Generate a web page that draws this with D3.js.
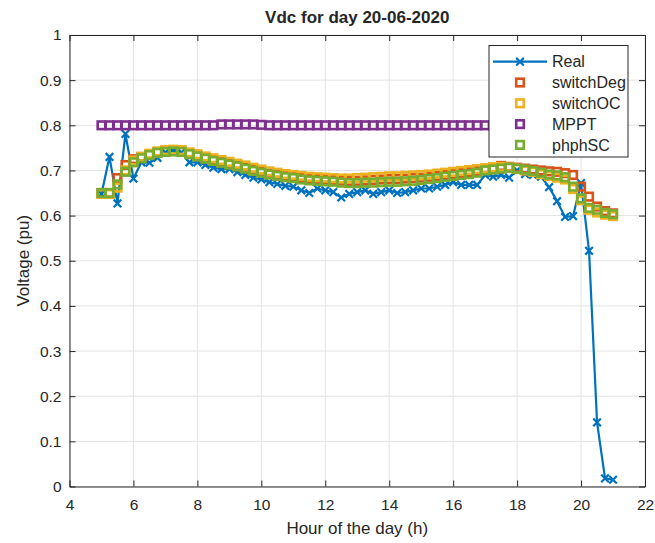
<!DOCTYPE html>
<html>
<head>
<meta charset="utf-8">
<script src="https://cdn.jsdelivr.net/npm/d3@7"></script>
<style>
  body { margin: 0; background: #fff; }
  svg { display: block; }
  text { font-family: "Liberation Sans", Arial, Helvetica, sans-serif; fill: #262626; }
</style>
</head>
<body>
<svg id="chart" width="655" height="543"></svg>
<script>
// Sample times (hour of the day), 15-minute steps
const hours = [
  5.00, 5.25, 5.50, 5.75, 6.00, 6.25, 6.50, 6.75, 7.00, 7.25, 7.50, 7.75,
  8.00, 8.25, 8.50, 8.75, 9.00, 9.25, 9.50, 9.75, 10.00, 10.25, 10.50, 10.75,
  11.00, 11.25, 11.50, 11.75, 12.00, 12.25, 12.50, 12.75, 13.00, 13.25, 13.50, 13.75,
  14.00, 14.25, 14.50, 14.75, 15.00, 15.25, 15.50, 15.75, 16.00, 16.25, 16.50, 16.75,
  17.00, 17.25, 17.50, 17.75, 18.00, 18.25, 18.50, 18.75, 19.00, 19.25, 19.50, 19.75,
  20.00, 20.25, 20.50, 20.75, 21.00
];

// DC voltage (pu) per series
const real = [
  0.648, 0.730, 0.627, 0.781, 0.682, 0.718, 0.717, 0.728, 0.740, 0.744, 0.740, 0.718,
  0.718, 0.712, 0.706, 0.703, 0.703, 0.696, 0.690, 0.684, 0.680, 0.674, 0.670, 0.666,
  0.664, 0.656, 0.650, 0.660, 0.656, 0.652, 0.640, 0.648, 0.652, 0.656, 0.648, 0.652,
  0.656, 0.650, 0.652, 0.656, 0.660, 0.660, 0.664, 0.668, 0.674, 0.668, 0.668, 0.668,
  0.690, 0.686, 0.690, 0.684, 0.700, 0.692, 0.690, 0.686, 0.663, 0.632, 0.597, 0.599,
  0.672, 0.522, 0.142, 0.018, 0.015
];
const switchDeg = [
  0.650, 0.650, 0.683, 0.712, 0.725, 0.730, 0.736, 0.741, 0.744, 0.745, 0.744, 0.738,
  0.733, 0.728, 0.723, 0.719, 0.715, 0.711, 0.706, 0.701, 0.697, 0.693, 0.690, 0.688,
  0.686, 0.684, 0.682, 0.681, 0.680, 0.679, 0.678, 0.677, 0.677, 0.678, 0.679, 0.680,
  0.681, 0.681, 0.682, 0.683, 0.684, 0.686, 0.688, 0.690, 0.692, 0.694, 0.696, 0.699,
  0.702, 0.706, 0.710, 0.708, 0.706, 0.704, 0.702, 0.700, 0.698, 0.697, 0.694, 0.690,
  0.664, 0.642, 0.620, 0.610, 0.605
];
const switchOC = [
  0.648, 0.648, 0.662, 0.700, 0.722, 0.730, 0.737, 0.742, 0.745, 0.746, 0.745, 0.740,
  0.736, 0.731, 0.727, 0.723, 0.719, 0.715, 0.711, 0.706, 0.702, 0.698, 0.695, 0.692,
  0.690, 0.688, 0.686, 0.685, 0.684, 0.683, 0.682, 0.682, 0.683, 0.684, 0.685, 0.686,
  0.687, 0.687, 0.688, 0.689, 0.690, 0.691, 0.693, 0.695, 0.697, 0.699, 0.701, 0.703,
  0.705, 0.707, 0.708, 0.707, 0.704, 0.700, 0.697, 0.692, 0.688, 0.684, 0.680, 0.659,
  0.634, 0.613, 0.607, 0.602, 0.599
];
const mppt = [
  0.800, 0.800, 0.800, 0.800, 0.800, 0.800, 0.800, 0.800, 0.800, 0.800, 0.800, 0.800,
  0.800, 0.800, 0.800, 0.802, 0.802, 0.802, 0.802, 0.802, 0.801, 0.800, 0.800, 0.800,
  0.800, 0.800, 0.800, 0.800, 0.800, 0.800, 0.800, 0.800, 0.800, 0.800, 0.800, 0.800,
  0.800, 0.800, 0.800, 0.800, 0.800, 0.800, 0.800, 0.800, 0.800, 0.800, 0.800, 0.800,
  0.800, 0.800, 0.800, 0.800, 0.800, 0.800, 0.800, 0.800, 0.800, 0.800, 0.800, 0.800,
  0.800, 0.800, 0.800, 0.800, 0.800
];
const phphSC = [
  0.650, 0.650, 0.669, 0.697, 0.718, 0.727, 0.734, 0.739, 0.741, 0.742, 0.741, 0.736,
  0.731, 0.726, 0.721, 0.717, 0.713, 0.709, 0.704, 0.699, 0.695, 0.691, 0.688, 0.685,
  0.683, 0.680, 0.678, 0.677, 0.676, 0.675, 0.673, 0.672, 0.672, 0.673, 0.673, 0.674,
  0.675, 0.675, 0.676, 0.677, 0.679, 0.681, 0.683, 0.686, 0.688, 0.690, 0.692, 0.695,
  0.700, 0.702, 0.704, 0.706, 0.704, 0.702, 0.699, 0.695, 0.691, 0.689, 0.685, 0.664,
  0.638, 0.617, 0.613, 0.606, 0.603
];

const xTicks = [4, 6, 8, 10, 12, 14, 16, 18, 20, 22];
const yTicks = [0, 0.1, 0.2, 0.3, 0.4, 0.5, 0.6, 0.7, 0.8, 0.9, 1];
const yTickLabels = ["0", "0.1", "0.2", "0.3", "0.4", "0.5", "0.6", "0.7", "0.8", "0.9", "1"];
const seriesNames = ["Real", "switchDeg", "switchOC", "MPPT", "phphSC"];
const seriesColors = ["#0072BD", "#D95319", "#EDB120", "#7E2F8E", "#77AC30"];

const titleText = "Vdc for day 20-06-2020";
const xLabel = "Hour of the day (h)";
const yLabel = "Voltage (pu)";

// Layout
const W = 655, H = 543;
const plot = { left: 69.5, right: 645, top: 35, bottom: 486.5 };
const axisColor = "#262626";
const gridColor = "#e3e3e3";

const svg = d3.select("#chart");
svg.append("rect").attr("width", W).attr("height", H).attr("fill", "#fff");

const x = d3.scaleLinear().domain([4, 22]).range([plot.left, plot.right]);
const y = d3.scaleLinear().domain([0, 1]).range([plot.bottom, plot.top]);

// Grid
const grid = svg.append("g");
grid.selectAll("line.gx").data(xTicks).join("line")
  .attr("x1", d => x(d)).attr("x2", d => x(d))
  .attr("y1", plot.top).attr("y2", plot.bottom)
  .attr("stroke", gridColor).attr("stroke-width", 1);
grid.selectAll("line.gy").data(yTicks).join("line")
  .attr("x1", plot.left).attr("x2", plot.right)
  .attr("y1", d => y(d)).attr("y2", d => y(d))
  .attr("stroke", gridColor).attr("stroke-width", 1);

// Data layer, clipped to the axes box
svg.append("clipPath").attr("id", "plotClip")
  .append("rect")
  .attr("x", plot.left).attr("y", plot.top)
  .attr("width", plot.right - plot.left).attr("height", plot.bottom - plot.top);
const layer = svg.append("g").attr("clip-path", "url(#plotClip)");

const sqSide = 7.6, sqStroke = 2.6;
const xArm = 3.8;

function drawCross(g, cx, cy, color) {
  g.append("path")
    .attr("d", `M${cx - xArm},${cy - xArm}L${cx + xArm},${cy + xArm}M${cx - xArm},${cy + xArm}L${cx + xArm},${cy - xArm}`)
    .attr("stroke", color).attr("stroke-width", 2.2).attr("fill", "none");
}
function drawSquares(g, values, color) {
  g.selectAll(null).data(hours).join("rect")
    .attr("x", (d, i) => x(d) - sqSide / 2)
    .attr("y", (d, i) => y(values[i]) - sqSide / 2)
    .attr("width", sqSide).attr("height", sqSide)
    .attr("fill", "none").attr("stroke", color).attr("stroke-width", sqStroke);
}

// Real: line with x markers
const line = d3.line().x((d, i) => x(hours[i])).y(d => y(d));
const realG = layer.append("g");
realG.append("path").datum(real).attr("d", line)
  .attr("fill", "none").attr("stroke", seriesColors[0])
  .attr("stroke-width", 2.2).attr("stroke-linejoin", "round");
real.forEach((v, i) => drawCross(realG, x(hours[i]), y(v), seriesColors[0]));

// Square-marker series
drawSquares(layer.append("g"), switchDeg, seriesColors[1]);
drawSquares(layer.append("g"), switchOC, seriesColors[2]);
drawSquares(layer.append("g"), mppt, seriesColors[3]);
drawSquares(layer.append("g"), phphSC, seriesColors[4]);

// Axes (ticks pointing inward on all four sides)
const tickLen = 6;
const fontTick = 15.5;
const axB = svg.append("g").attr("transform", `translate(0,${plot.bottom})`)
  .call(d3.axisBottom(x).tickValues(xTicks).tickSize(-tickLen).tickPadding(12).tickSizeOuter(0));
const axT = svg.append("g").attr("transform", `translate(0,${plot.top})`)
  .call(d3.axisTop(x).tickValues(xTicks).tickSize(-tickLen).tickFormat("").tickSizeOuter(0));
const axL = svg.append("g").attr("transform", `translate(${plot.left},0)`)
  .call(d3.axisLeft(y).tickValues(yTicks).tickSize(-tickLen).tickPadding(8).tickSizeOuter(0)
    .tickFormat((d, i) => yTickLabels[i]));
const axR = svg.append("g").attr("transform", `translate(${plot.right},0)`)
  .call(d3.axisRight(y).tickValues(yTicks).tickSize(-tickLen).tickFormat("").tickSizeOuter(0));

[axB, axT, axL, axR].forEach(a => {
  a.select(".domain").attr("stroke", axisColor).attr("stroke-width", 1);
  a.selectAll(".tick line").attr("stroke", axisColor).attr("stroke-width", 1);
  a.selectAll(".tick text").attr("font-size", fontTick)
    .attr("font-family", "Liberation Sans, Arial, sans-serif").attr("fill", axisColor);
});

// Title and axis labels
svg.append("text")
  .attr("x", (plot.left + plot.right) / 2).attr("y", 17)
  .attr("dy", "0.35em").attr("text-anchor", "middle")
  .attr("font-size", 17).attr("font-weight", "bold")
  .text(titleText);
svg.append("text")
  .attr("x", (plot.left + plot.right) / 2).attr("y", 528)
  .attr("dy", "0.35em").attr("text-anchor", "middle")
  .attr("font-size", 17)
  .text(xLabel);
svg.append("text")
  .attr("transform", `translate(23,${(plot.top + plot.bottom) / 2}) rotate(-90)`)
  .attr("dy", "0.35em").attr("text-anchor", "middle")
  .attr("font-size", 17)
  .text(yLabel);

// Legend
const lg = { left: 489, top: 45.5, width: 139, height: 111.5, row0: 61.7, rowStep: 20.8 };
const legend = svg.append("g");
legend.append("rect")
  .attr("x", lg.left).attr("y", lg.top).attr("width", lg.width).attr("height", lg.height)
  .attr("fill", "#fff").attr("stroke", axisColor).attr("stroke-width", 1);
seriesNames.forEach((name, i) => {
  const cy = lg.row0 + i * lg.rowStep;
  const mx = lg.left + 31;
  if (i === 0) {
    legend.append("line")
      .attr("x1", lg.left + 4).attr("x2", lg.left + 58)
      .attr("y1", cy).attr("y2", cy)
      .attr("stroke", seriesColors[0]).attr("stroke-width", 2.2);
    drawCross(legend, mx, cy, seriesColors[0]);
  } else {
    legend.append("rect")
      .attr("x", mx - sqSide / 2).attr("y", cy - sqSide / 2)
      .attr("width", sqSide).attr("height", sqSide)
      .attr("fill", "none").attr("stroke", seriesColors[i]).attr("stroke-width", sqStroke);
  }
  legend.append("text")
    .attr("x", lg.left + 63).attr("y", cy)
    .attr("dy", "0.35em").attr("font-size", 16)
    .text(name);
});
</script>
</body>
</html>
